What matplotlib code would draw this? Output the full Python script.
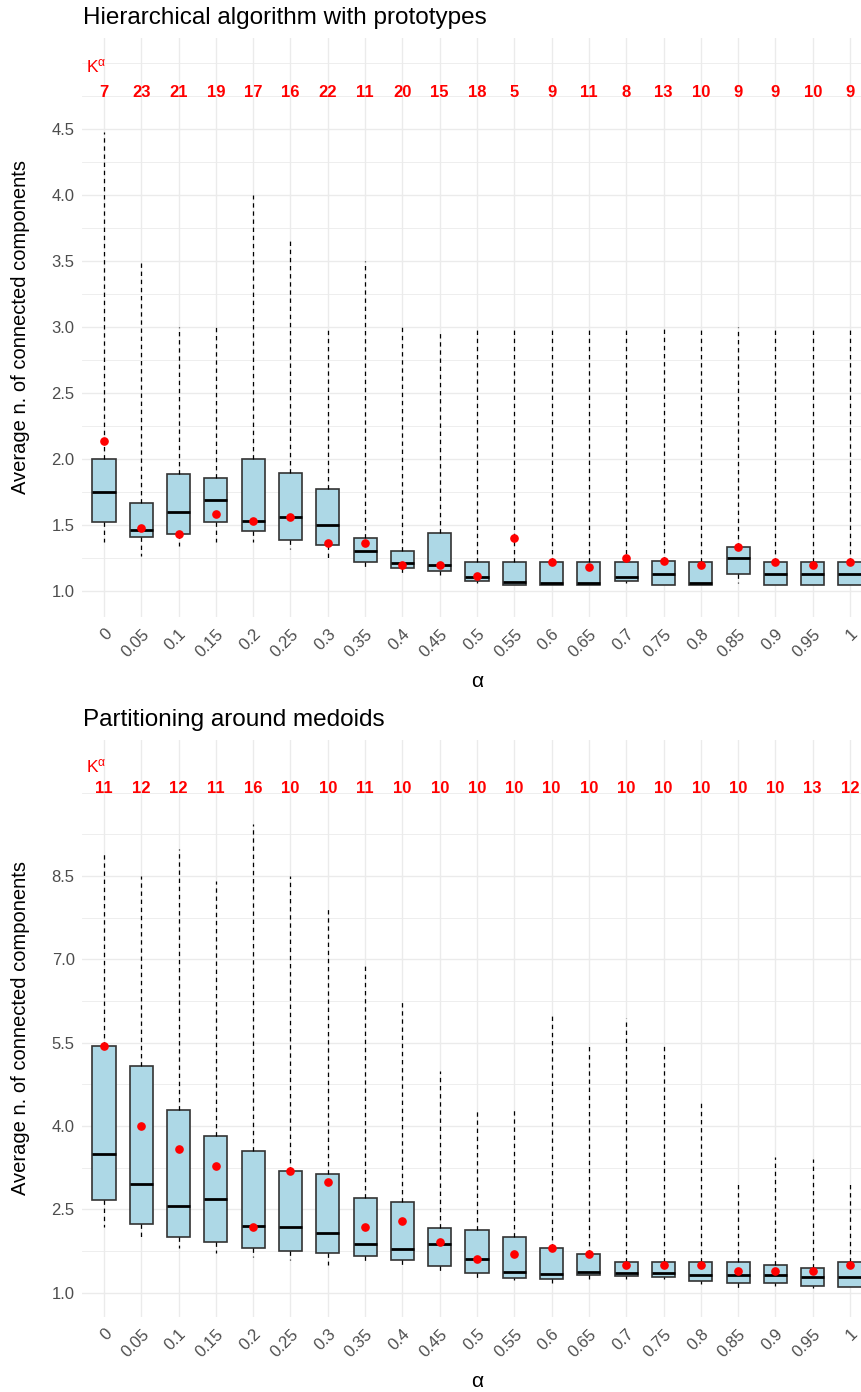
import matplotlib
matplotlib.use("Agg")
import matplotlib.pyplot as plt

plt.rcParams['font.family'] = ['Liberation Sans', 'DejaVu Sans']
plt.rcParams['mathtext.fontset'] = 'custom'
plt.rcParams['mathtext.rm'] = 'Liberation Sans'
plt.rcParams['mathtext.it'] = 'Liberation Sans'

alpha_labels = ['0', '0.05', '0.1', '0.15', '0.2', '0.25', '0.3', '0.35', '0.4', '0.45', '0.5',
                '0.55', '0.6', '0.65', '0.7', '0.75', '0.8', '0.85', '0.9', '0.95', '1']

# hierarchical algorithm with prototypes
k_hier = [7, 23, 21, 19, 17, 16, 22, 11, 20, 15, 18, 5, 9, 11, 8, 13, 10, 9, 9, 10, 9]
hier_lo = [1.37, 1.265, 1.34, 1.37, 1.37, 1.32, 1.235, 1.16, 1.13, 1.12, 1.06, 1.048, 1.045,
           1.045, 1.06, 1.045, 1.045, 1.063, 1.045, 1.045, 1.045]
hier_q1 = [1.52, 1.41, 1.43, 1.52, 1.455, 1.39, 1.35, 1.22, 1.175, 1.155, 1.076, 1.048, 1.045,
           1.045, 1.076, 1.045, 1.045, 1.129, 1.045, 1.045, 1.045]
hier_med = [1.75, 1.46, 1.60, 1.687, 1.53, 1.56, 1.50, 1.305, 1.215, 1.20, 1.108, 1.066, 1.06,
            1.06, 1.106, 1.126, 1.06, 1.252, 1.126, 1.126, 1.126]
hier_q3 = [2.0, 1.664, 1.886, 1.853, 2.0, 1.896, 1.775, 1.40, 1.305, 1.44, 1.222, 1.222, 1.222,
           1.222, 1.222, 1.23, 1.222, 1.333, 1.222, 1.222, 1.222]
hier_hi = [4.48, 3.5, 3.0, 3.0, 4.0, 3.67, 3.0, 3.5, 3.0, 2.98, 3.0, 3.0, 3.0, 3.0, 3.0, 3.0,
           3.0, 3.0, 3.0, 3.0, 3.0]
hier_mean = [2.14, 1.48, 1.43, 1.58, 1.53, 1.56, 1.36, 1.36, 1.20, 1.20, 1.11, 1.40, 1.222,
             1.18, 1.25, 1.23, 1.20, 1.333, 1.222, 1.20, 1.222]

# partitioning around medoids
k_pam = [11, 12, 12, 11, 16, 10, 10, 11, 10, 10, 10, 10, 10, 10, 10, 10, 10, 10, 10, 13, 12]
pam_lo = [2.19, 1.95, 1.80, 1.71, 1.64, 1.59, 1.50, 1.52, 1.44, 1.34, 1.25, 1.23, 1.18, 1.25,
          1.25, 1.25, 1.16, 1.08, 1.12, 1.08, 1.10]
pam_q1 = [2.67, 2.24, 2.0, 1.92, 1.80, 1.745, 1.72, 1.66, 1.59, 1.49, 1.36, 1.26, 1.24, 1.32,
          1.31, 1.28, 1.21, 1.17, 1.17, 1.12, 1.11]
pam_med = [3.50, 2.95, 2.57, 2.69, 2.21, 2.19, 2.07, 1.877, 1.79, 1.88, 1.60, 1.38, 1.34, 1.37,
           1.35, 1.35, 1.32, 1.32, 1.32, 1.28, 1.28]
pam_q3 = [5.446, 5.09, 4.29, 3.83, 3.56, 3.20, 3.14, 2.70, 2.63, 2.165, 2.13, 2.00, 1.81, 1.70,
          1.56, 1.56, 1.56, 1.56, 1.50, 1.45, 1.56]
pam_hi = [8.91, 8.5, 8.99, 8.42, 9.44, 8.5, 7.91, 6.92, 6.28, 5.0, 4.29, 4.35, 6.0, 5.49, 5.95,
          5.49, 4.46, 2.95, 3.45, 3.40, 2.95]
pam_mean = [5.45, 4.0, 3.58, 3.28, 2.19, 3.20, 3.0, 2.19, 2.30, 1.91, 1.60, 1.70, 1.81, 1.70,
            1.50, 1.50, 1.50, 1.40, 1.40, 1.39, 1.50]

W, H = 861, 1392
fig = plt.figure(figsize=(W / 100, H / 100), dpi=100)


def panel(top_px, bottom_px, title, lo, q1, med, q3, hi, mean, kvals,
          ylim, yticks, yminor, k_y, klab_y):
    left_px, right_px = 81.6, 872.4
    ax = fig.add_axes([left_px / W, 1 - bottom_px / H,
                       (right_px - left_px) / W, (bottom_px - top_px) / H])
    stats = []
    for i in range(len(alpha_labels)):
        stats.append(dict(whislo=lo[i], q1=q1[i], med=med[i], q3=q3[i],
                          whishi=hi[i], mean=mean[i], fliers=[]))
    ax.bxp(stats, positions=range(len(stats)), widths=0.62, patch_artist=True,
           showmeans=True, showcaps=False, showfliers=False,
           boxprops=dict(facecolor='#ADD8E6', edgecolor='#333333', linewidth=1.2),
           medianprops=dict(color='black', linewidth=2.0),
           whiskerprops=dict(color='black', linestyle=(0, (3.5, 3)), linewidth=0.9),
           meanprops=dict(marker='o', markerfacecolor='red', markeredgecolor='red',
                          markersize=5.2))
    for i, k in enumerate(kvals):
        ax.text(i, k_y, str(k), color='red', fontweight='bold', fontsize=12,
                ha='center', va='center')
    ax.text(-0.47, klab_y, r'K$^{\alpha}$', color='red', fontsize=12.5,
            ha='left', va='center')

    ax.set_xlim(-0.6, len(alpha_labels) - 0.4)
    ax.set_ylim(*ylim)
    ax.set_xticks(range(len(alpha_labels)))
    ax.set_xticklabels(alpha_labels, rotation=45, ha='right', va='top',
                       rotation_mode='anchor', fontsize=12, color='#4D4D4D')
    ax.set_yticks(yticks)
    ax.set_yticklabels([f'{v:.1f}' for v in yticks], fontsize=12, color='#4D4D4D')
    ax.set_yticks(yminor, minor=True)
    ax.tick_params(which='both', length=0)
    ax.tick_params(axis='y', pad=5)
    ax.tick_params(axis='x', pad=7)
    ax.grid(True, which='major', color='#EBEBEB', linewidth=1.0)
    ax.grid(True, which='minor', axis='y', color='#EBEBEB', linewidth=0.6)
    ax.set_axisbelow(True)
    for s in ax.spines.values():
        s.set_visible(False)

    ax.text(-0.077, 0.5, 'Average n. of connected components', transform=ax.transAxes,
            rotation=90, ha='center', va='center', fontsize=14.5, color='black')
    ax.set_xlabel('α', fontsize=15, labelpad=9)
    fig.text(83 / W, 1 - (top_px - 20) / H, title, fontsize=17.5, ha='left', va='center')
    return ax


panel(38.3, 616.7, 'Hierarchical algorithm with prototypes',
      hier_lo, hier_q1, hier_med, hier_q3, hier_hi, hier_mean, k_hier,
      (0.805, 5.19), [1.0, 1.5, 2.0, 2.5, 3.0, 3.5, 4.0, 4.5],
      [1.25, 1.75, 2.25, 2.75, 3.25, 3.75, 4.25, 4.75, 5.0], 4.78, 4.98)

panel(740, 1316.7, 'Partitioning around medoids',
      pam_lo, pam_q1, pam_med, pam_q3, pam_hi, pam_mean, k_pam,
      (0.57, 10.95), [1.0, 2.5, 4.0, 5.5, 7.0, 8.5],
      [1.75, 3.25, 4.75, 6.25, 7.75, 9.25, 10.0], 10.08, 10.48)

fig.savefig('out.png', dpi=100)
